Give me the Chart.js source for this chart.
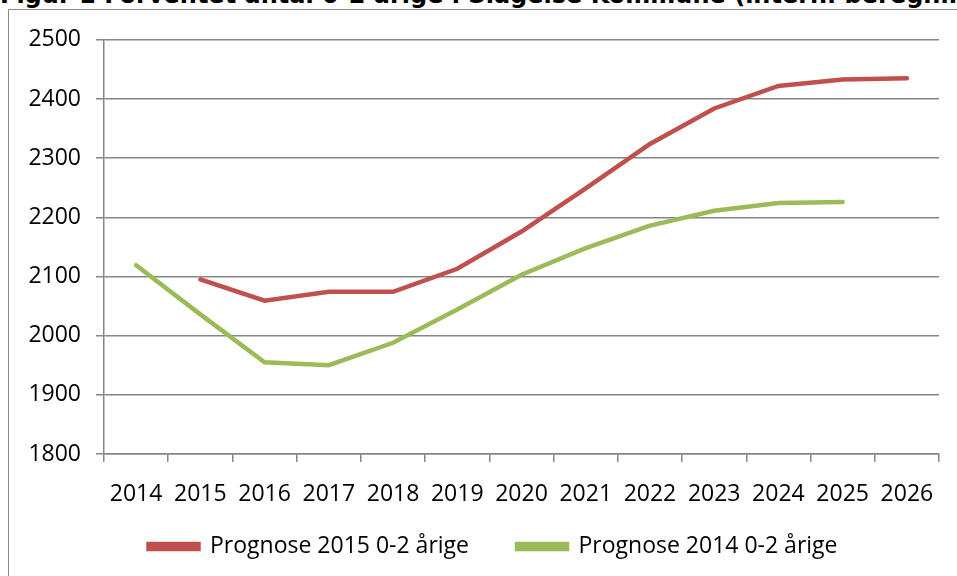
<!DOCTYPE html>
<html>
<head>
<meta charset="utf-8">
<script src="https://cdn.jsdelivr.net/npm/chart.js@4.4.0/dist/chart.umd.min.js"></script>
<style>
  html, body { margin: 0; padding: 0; background: #fff; overflow: hidden; }
  body { width: 957px; height: 576px; position: relative; }
  #title {
    position: absolute; left: 0; top: -19px; white-space: nowrap;
    font-family: "DejaVu Sans", sans-serif; font-weight: bold; font-size: 24px; color: #000;
  }
  #frame {
    position: absolute; left: 8px; top: 9px; width: 1000px; height: 700px;
    border: 1px solid #8a8a8a; box-sizing: border-box; background: #fff;
  }
  #wrap { position: absolute; left: 9px; top: 11px; width: 948px; height: 565px; }
</style>
</head>
<body>
<div id="title">Figur 1 Forventet antal 0-2 årige i Slagelse Kommune  (intern. beregning)</div>
<div id="frame"></div>
<div id="wrap"><canvas id="prognoseChart"></canvas></div>
<script>
const years = ["2014", "2015", "2016", "2017", "2018", "2019", "2020", "2021", "2022", "2023", "2024", "2025", "2026"]
const prognose2015 = [null, 2095, 2059, 2074, 2074, 2113, 2176, 2249, 2324, 2384, 2422, 2433, 2435]
const prognose2014 = [2119, 2036, 1955, 1950, 1988, 2044, 2103, 2148, 2186, 2211, 2224, 2226, null]

const COLORS = {
  red: "#C0504D",
  green: "#9BBB59",
  grid: "#868686",
}

// legend in the original sits right of the canvas centre and close under the labels
const shiftLegend = {
  id: "shiftLegend",
  afterLayout(chart) {
    const lg = chart.legend
    lg.left += 19
    lg.right += 19
    lg.top -= 25
    lg.bottom -= 25
  },
}

prognoseChart("prognoseChart")

function prognoseChart(canvasId) {
  const data = {
    labels: years,
    datasets: [
      {
        label: "Prognose 2015 0-2 årige",
        data: prognose2015,
        borderColor: COLORS.red,
        backgroundColor: COLORS.red,
        borderWidth: 4.5,
        borderCapStyle: "round",
        pointRadius: 0,
        tension: 0,
        fill: false,
      },
      {
        label: "Prognose 2014 0-2 årige",
        data: prognose2014,
        borderColor: COLORS.green,
        backgroundColor: COLORS.green,
        borderWidth: 4.5,
        borderCapStyle: "round",
        pointRadius: 0,
        tension: 0,
        fill: false,
      },
    ],
  }
  const font = { family: "'Open Sans', sans-serif", size: 23 }
  const config = {
    type: "line",
    data: data,
    plugins: [shiftLegend],
    options: {
      responsive: true,
      maintainAspectRatio: false,
      animation: false,
      layout: { padding: { top: 27, right: 18, bottom: -17, left: 0 } },
      plugins: {
        title: { display: false },
        tooltip: { enabled: false },
        legend: {
          position: "bottom",
          labels: {
            color: "#000",
            font: font,
            boxWidth: 50,
            boxHeight: 5,
            padding: 48,
          },
        },
      },
      scales: {
        x: {
          offset: true,
          grid: {
            offset: true,
            drawOnChartArea: false,
            drawTicks: true,
            tickLength: 8,
            color: COLORS.grid,
            lineWidth: 1.5,
          },
          border: { color: COLORS.grid, width: 1.5 },
          ticks: { color: "#000", font: font, padding: 19, maxRotation: 0, autoSkip: false },
          afterFit: (scale) => { scale.height = 58 },
        },
        y: {
          min: 1800,
          max: 2500,
          grid: { color: COLORS.grid, lineWidth: 1.5, tickLength: 8 },
          border: { color: COLORS.grid, width: 1.5 },
          ticks: {
            color: "#000",
            font: font,
            stepSize: 100,
            padding: 15,
            callback: (value) => String(value),
          },
          afterFit: (scale) => { scale.width = 95 },
        },
      },
    },
  }
  new Chart(document.getElementById(canvasId), config)
}
</script>
</body>
</html>
